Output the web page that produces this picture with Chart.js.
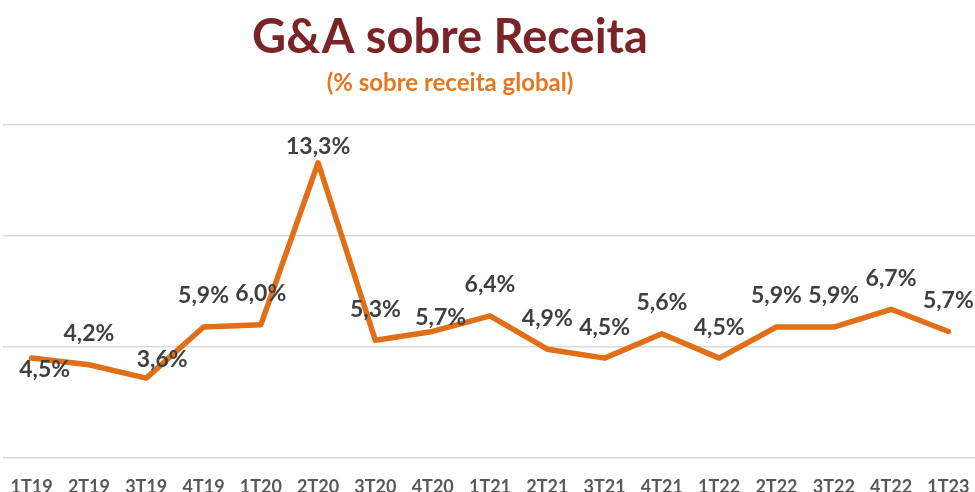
<!DOCTYPE html>
<html>
<head>
<meta charset="utf-8">
<script src="https://cdn.jsdelivr.net/npm/chart.js@4"></script>
<style>
  html, body { margin: 0; padding: 0; background: #fff; overflow: hidden; }
  #wrap { position: relative; width: 980px; height: 504px; }
</style>
</head>
<body>
<div id="wrap"><canvas id="chart"></canvas></div>
<script>
// dados
const quarters = ["1T19","2T19","3T19","4T19","1T20","2T20","3T20","4T20","1T21","2T21","3T21","4T21","1T22","2T22","3T22","4T22","1T23"];
const gaPct = [4.5, 4.2, 3.6, 5.9, 6.0, 13.3, 5.3, 5.7, 6.4, 4.9, 4.5, 5.6, 4.5, 5.9, 5.9, 6.7, 5.7];
const yTicks = [0, 5, 10, 15];

const TITLE = "G&A sobre Receita";
const SUBTITLE = "(% sobre receita global)";

const ORANGE = "#E06F17";
const FONT = "Lato, 'Open Sans', sans-serif";

function fmtPct(v){ return v.toFixed(1).replace(".", ",") + "%"; }

// deslocamento dos rótulos (em px) em relação ao ponto
const labelShift = { 0: [13, 11], 2: [16, -19], 5: [0, -16], 7: [8, -14] };

const headingPlugin = {
  id: "heading",
  afterDraw(chart){
    const ctx = chart.ctx;
    ctx.save();
    ctx.textAlign = "center";
    ctx.textBaseline = "alphabetic";
    ctx.fillStyle = "#7B2428";
    ctx.font = `bold 47px ${FONT}`;
    ctx.fillText(TITLE, 450, 53);
    ctx.fillStyle = "#E5781F";
    ctx.font = `bold 24px ${FONT}`;
    ctx.fillText(SUBTITLE, 450, 91);
    ctx.restore();
  }
};

const valueLabels = {
  id: "valueLabels",
  afterDatasetsDraw(chart){
    const ctx = chart.ctx;
    const meta = chart.getDatasetMeta(0);
    ctx.save();
    ctx.font = `bold 23px ${FONT}`;
    ctx.fillStyle = "#404040";
    ctx.textAlign = "center";
    ctx.textBaseline = "middle";
    meta.data.forEach((pt, i) => {
      const [dx, dy] = labelShift[i] || [0, -31];
      ctx.fillText(fmtPct(gaPct[i]), pt.x + dx, pt.y + dy);
    });
    ctx.restore();
  }
};

new Chart(document.getElementById("chart"), {
  type: "line",
  data: {
    labels: quarters,
    datasets: [{
      data: gaPct,
      borderColor: ORANGE,
      borderWidth: 5.5,
      borderJoinStyle: "round",
      borderCapStyle: "round",
      pointRadius: 0,
      tension: 0,
      fill: false
    }]
  },
  options: {
    responsive: true,
    maintainAspectRatio: false,
    animation: false,
    layout: { padding: { top: 125, left: 3, right: 3, bottom: 0 } },
    plugins: { legend: { display: false }, tooltip: { enabled: false } },
    scales: {
      x: {
        offset: true,
        grid: { display: false },
        border: { display: false },
        ticks: { color: "#595959", font: { family: FONT, size: 18, weight: "bold" }, padding: 10, maxRotation: 0, autoSkip: false },
        afterFit(s){ s.height = 46; }
      },
      y: {
        min: 0, max: 15,
        afterBuildTicks(s){ s.ticks = yTicks.map(v => ({ value: v })); },
        grid: { color: "#D9D9D9", lineWidth: 1.5, drawTicks: false },
        border: { display: false },
        ticks: { display: false },
        afterFit(s){ s.width = 0; }
      }
    }
  },
  plugins: [headingPlugin, valueLabels]
});
</script>
</body>
</html>
